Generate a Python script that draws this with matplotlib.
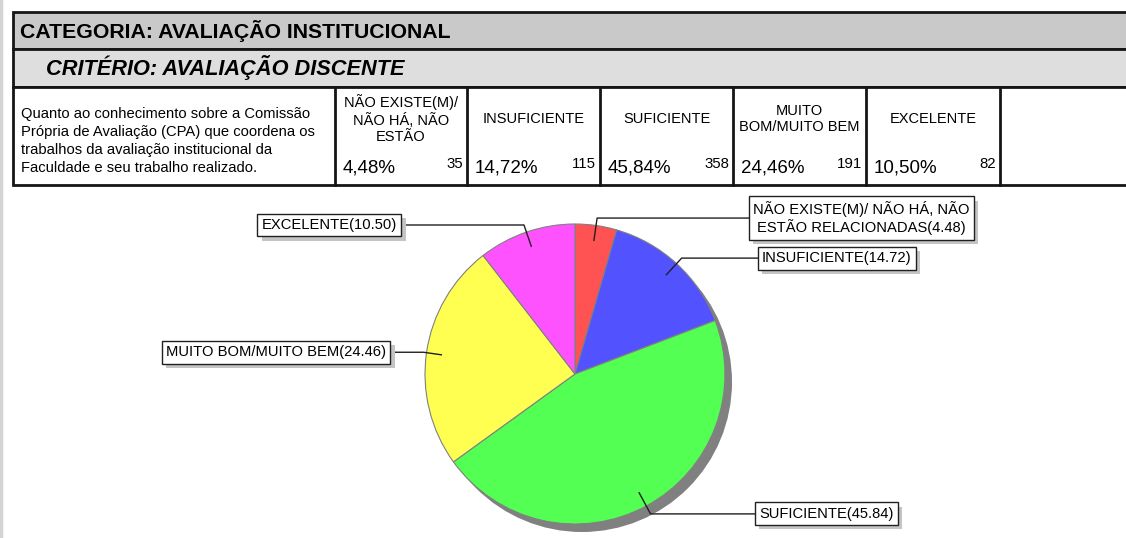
import matplotlib
matplotlib.use('Agg')
import matplotlib.pyplot as plt
from matplotlib.patches import Rectangle, Circle
import matplotlib.patheffects as pe
import numpy as np

plt.rcParams['font.family'] = ['Liberation Sans', 'DejaVu Sans']

# dados da tabela
categoria = 'CATEGORIA: AVALIAÇÃO INSTITUCIONAL'
criterio = 'CRITÉRIO: AVALIAÇÃO DISCENTE'
pergunta = ('Quanto ao conhecimento sobre a Comissão\n'
            'Própria de Avaliação (CPA) que coordena os\n'
            'trabalhos da avaliação institucional da\n'
            'Faculdade e seu trabalho realizado.')
cabecalhos = ['NÃO EXISTE(M)/\nNÃO HÁ, NÃO\nESTÃO', 'INSUFICIENTE', 'SUFICIENTE',
              'MUITO\nBOM/MUITO BEM', 'EXCELENTE']
percentuais = [4.48, 14.72, 45.84, 24.46, 10.50]
respostas = [35, 115, 358, 191, 82]
rotulos_pizza = ['NÃO EXISTE(M)/ NÃO HÁ, NÃO\nESTÃO RELACIONADAS', 'INSUFICIENTE',
                 'SUFICIENTE', 'MUITO BOM/MUITO BEM', 'EXCELENTE']
cores = ['#ff5252', '#5252ff', '#52ff52', '#ffff52', '#ff52ff']

W, H = 1126, 538
fig = plt.figure(figsize=(W / 100, H / 100), dpi=100)
ax = fig.add_axes([0, 0, 1, 1])

# pizza (centro e raio em pixels)
cx, cy, R = 575, 374, 150
ax.add_patch(Circle((cx + 7, cy + 8), R, facecolor='#808080', edgecolor='none', zorder=0.5))
wedges, _ = ax.pie(percentuais, colors=cores, startangle=-90, counterclock=True,
                   center=(cx, cy), radius=R,
                   wedgeprops=dict(edgecolor='#808080', linewidth=0.8))

ax.set_xlim(0, W)
ax.set_ylim(H, 0)
ax.set_aspect('auto')
ax.axis('off')

# borda da pagina
ax.plot([1, 1], [0, H], color='#d4d4d4', lw=2.5)

# tabela
lw = 2.0
ax.add_patch(Rectangle((13, 12), W, 37, facecolor='#c9c9c9', edgecolor='#151515', lw=lw))
ax.add_patch(Rectangle((13, 49), W, 38, facecolor='#dedede', edgecolor='#151515', lw=lw))
ax.add_patch(Rectangle((13, 87), W, 98, facecolor='white', edgecolor='#151515', lw=lw))
ax.text(20, 31, categoria, fontsize=15.3, fontweight='bold', va='center')
ax.text(46, 68, criterio, fontsize=15.7, fontweight='bold', fontstyle='italic', va='center')
ax.text(21, 141, pergunta, fontsize=10.6, va='center', linespacing=1.38)

cols = [335, 467, 600, 733, 866, 1000]
for x in cols:
    ax.plot([x, x], [87, 185], color='#151515', lw=lw)
for i, (cab, p, n) in enumerate(zip(cabecalhos, percentuais, respostas)):
    x0, x1 = cols[i], cols[i + 1]
    ax.text((x0 + x1) / 2, 119, cab, fontsize=10.5, ha='center', va='center',
            multialignment='center', linespacing=1.25)
    ax.text(x0 + 8, 168, f'{p:.2f}%'.replace('.', ','), fontsize=13.5, va='center')
    ax.text(x1 - 4, 164, str(n), fontsize=10.8, ha='right', va='center')

# rotulos da pizza com linhas de chamada
caixa_x = [753, 762, 759, 386, 397]
raio_cotovelo = [1.05, 1.05, 1.06, 1.02, 1.05]
for w, rot, p, bx, rc in zip(wedges, rotulos_pizza, percentuais, caixa_x, raio_cotovelo):
    th = np.deg2rad((w.theta1 + w.theta2) / 2)
    x_in, y_in = cx + 0.9 * R * np.cos(th), cy + 0.9 * R * np.sin(th)
    x_el, y_el = cx + rc * R * np.cos(th), cy + rc * R * np.sin(th)
    ax.plot([x_in, x_el, bx], [y_in, y_el, y_el], color='#202020', lw=1.0, zorder=3)
    ha = 'left' if bx > cx else 'right'
    t = ax.text(bx, y_el, f'{rot}({p:.2f})', fontsize=10.6, ha=ha, va='center',
                multialignment='center', zorder=4,
                bbox=dict(boxstyle='square,pad=0.3', facecolor='white',
                          edgecolor='#202020', lw=1.0))
    t.get_bbox_patch().set_path_effects([
        pe.SimplePatchShadow(offset=(3, -3), shadow_rgbFace='#c4c4c4', alpha=1),
        pe.Normal()])

fig.savefig('out.png', dpi=100)
